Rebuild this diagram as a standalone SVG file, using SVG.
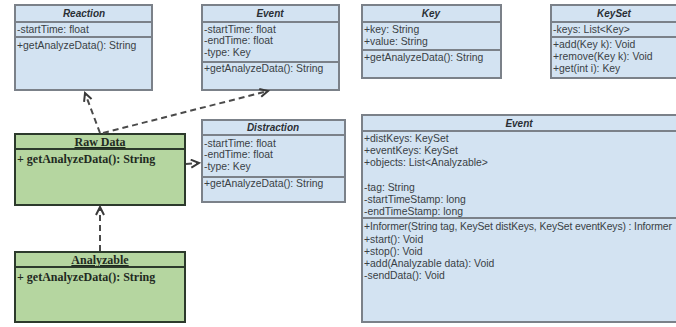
<svg xmlns="http://www.w3.org/2000/svg" width="676" height="327" viewBox="0 0 676 327">
<defs>
<style>
.bb{fill:#d3e3f2;stroke:#7b8189;stroke-width:2}
.bl{stroke:#7b8189;stroke-width:2}
.gb{fill:#b5d6a0;stroke:#2c3a2c;stroke-width:2}
.gl{stroke:#2c3a2c;stroke-width:2}
.t{font-family:"Liberation Sans",Arial,sans-serif;font-size:10.4px;fill:#3a3f45}
.h{font-family:"Liberation Sans",Arial,sans-serif;font-size:10px;font-weight:bold;font-style:italic;fill:#2a2f35;text-anchor:middle}
.gt{font-family:"Liberation Serif","Times New Roman",serif;font-size:12px;font-weight:bold;fill:#1f2a1f}
.gh{font-family:"Liberation Serif","Times New Roman",serif;font-size:12px;font-weight:bold;fill:#1f2a1f;text-anchor:middle;text-decoration:underline}
.c{fill:none;stroke:#4a4a4a;stroke-width:2;stroke-dasharray:6 4}
</style>
<marker id="arr" markerWidth="12" markerHeight="12" refX="9" refY="5" orient="auto" markerUnits="userSpaceOnUse">
<path d="M1,1 L9,5 L1,9" fill="none" stroke="#3a3a3a" stroke-width="2"/>
</marker>
</defs>
<rect width="676" height="327" fill="#ffffff"/>

<g id="reaction">
<rect class="bb" x="15" y="5" width="137" height="85"/>
<line class="bl" x1="15" y1="22" x2="152" y2="22"/>
<line class="bl" x1="15" y1="37" x2="152" y2="37"/>
<text class="h" x="84" y="17">Reaction</text>
<text class="t" x="17" y="33">-startTime: float</text>
<text class="t" x="17" y="49">+getAnalyzeData(): String</text>
</g>

<g id="event-top">
<rect class="bb" x="202" y="5" width="137" height="85"/>
<line class="bl" x1="202" y1="22" x2="339" y2="22"/>
<line class="bl" x1="202" y1="62" x2="339" y2="62"/>
<text class="h" x="270" y="17">Event</text>
<text class="t" x="204" y="33">-startTime: float</text>
<text class="t" x="204" y="44">-endTime: float</text>
<text class="t" x="204" y="56">-type: Key</text>
<text class="t" x="204" y="72">+getAnalyzeData(): String</text>
</g>

<g id="key">
<rect class="bb" x="362" y="5" width="139" height="73"/>
<line class="bl" x1="362" y1="22" x2="501" y2="22"/>
<line class="bl" x1="362" y1="50" x2="501" y2="50"/>
<text class="h" x="431" y="17">Key</text>
<text class="t" x="364" y="33">+key: String</text>
<text class="t" x="364" y="45">+value: String</text>
<text class="t" x="364" y="61">+getAnalyzeData(): String</text>
</g>

<g id="keyset">
<rect class="bb" x="551" y="5" width="135" height="73"/>
<line class="bl" x1="551" y1="22" x2="686" y2="22"/>
<line class="bl" x1="551" y1="37" x2="686" y2="37"/>
<text class="h" x="614" y="17">KeySet</text>
<text class="t" x="553" y="33">-keys: List&lt;Key&gt;</text>
<text class="t" x="553" y="48">+add(Key k): Void</text>
<text class="t" x="553" y="60">+remove(Key k): Void</text>
<text class="t" x="553" y="72">+get(int i): Key</text>
</g>

<g id="distraction">
<rect class="bb" x="202" y="120" width="143" height="82"/>
<line class="bl" x1="202" y1="135" x2="345" y2="135"/>
<line class="bl" x1="202" y1="177" x2="345" y2="177"/>
<text class="h" x="273" y="131">Distraction</text>
<text class="t" x="204" y="147">-startTime: float</text>
<text class="t" x="204" y="158">-endTime: float</text>
<text class="t" x="204" y="170">-type: Key</text>
<text class="t" x="204" y="187">+getAnalyzeData(): String</text>
</g>

<g id="event-main">
<rect class="bb" x="362" y="115" width="324" height="207"/>
<line class="bl" x1="362" y1="131" x2="686" y2="131"/>
<line class="bl" x1="362" y1="218" x2="686" y2="218"/>
<text class="h" x="519" y="127">Event</text>
<text class="t" x="364" y="142">+distKeys: KeySet</text>
<text class="t" x="364" y="154">+eventKeys: KeySet</text>
<text class="t" x="364" y="166">+objects: List&lt;Analyzable&gt;</text>
<text class="t" x="364" y="191">-tag: String</text>
<text class="t" x="364" y="203">-startTimeStamp: long</text>
<text class="t" x="364" y="215">-endTimeStamp: long</text>
<text class="t" x="364" y="230" textLength="308" lengthAdjust="spacing">+Informer(String tag, KeySet distKeys, KeySet eventKeys) : Informer</text>
<text class="t" x="364" y="243">+start(): Void</text>
<text class="t" x="364" y="255">+stop(): Void</text>
<text class="t" x="364" y="267">+add(Analyzable data): Void</text>
<text class="t" x="364" y="279">-sendData(): Void</text>
</g>

<g id="rawdata">
<rect class="gb" x="15" y="134" width="170" height="71"/>
<line class="gl" x1="15" y1="149" x2="185" y2="149"/>
<text class="gh" x="100" y="146">Raw Data</text>
<text class="gt" x="17" y="163">+ getAnalyzeData(): String</text>
</g>

<g id="analyzable">
<rect class="gb" x="15" y="252" width="170" height="70"/>
<line class="gl" x1="15" y1="267" x2="185" y2="267"/>
<text class="gh" x="100" y="264">Analyzable</text>
<text class="gt" x="17" y="281">+ getAnalyzeData(): String</text>
</g>

<g id="connectors">
<line class="c" x1="100" y1="133" x2="85" y2="93" marker-end="url(#arr)"/>
<line class="c" x1="103" y1="133" x2="268" y2="91" marker-end="url(#arr)"/>
<line class="c" x1="186" y1="164" x2="199" y2="163" marker-end="url(#arr)"/>
<line class="c" x1="100" y1="251" x2="100" y2="207" marker-end="url(#arr)"/>
</g>
</svg>
